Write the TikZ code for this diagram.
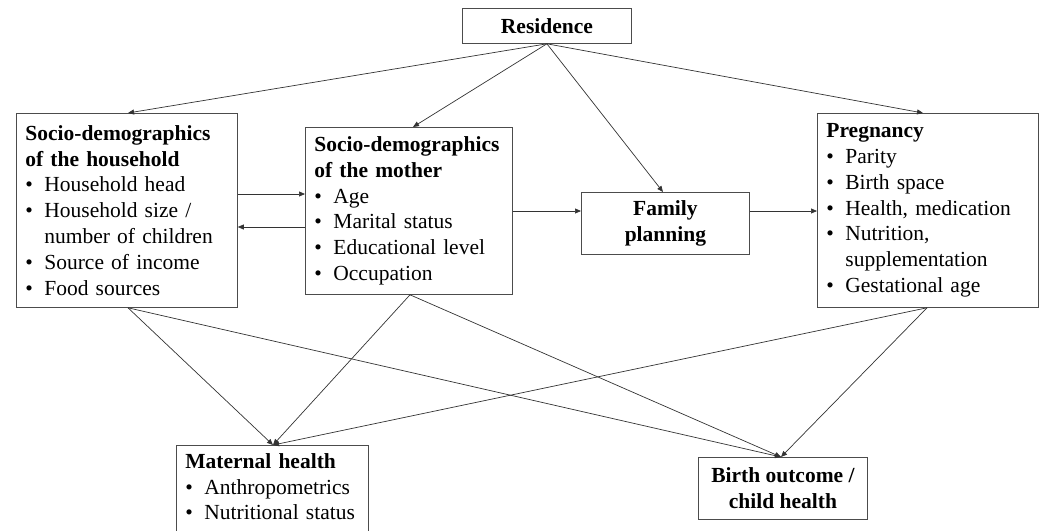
\documentclass[tikz,border=0pt]{standalone}
\usepackage{fontspec}
\setmainfont{Liberation Serif}
\usetikzlibrary{calc,arrows.meta}
\newcommand\itm{\makebox[19pt][l]{\textbullet}}
\newcommand\cnt{\hspace*{19pt}}
\begin{document}
\begin{tikzpicture}[x=1pt,y=-1pt,
  box/.style={draw=black!70, line width=0.8pt, anchor=north west, inner xsep=9pt, inner ysep=3pt, align=left, font=\fontsize{21.5}{25.8}\selectfont},
  cbox/.style={box, align=center, font=\fontsize{21.5}{25.8}\selectfont\bfseries},
  arr/.style={draw=black!80, line width=0.7pt, -{Triangle[length=6pt,width=5pt]}}]
\useasboundingbox (0,0) rectangle (1043,530);
\begin{scope}
\clip (0,0) rectangle (1043,530);
\node[cbox, minimum width=169pt, minimum height=35pt] (re) at (462,8) {Residence};
\node[box, text width=203pt, minimum height=194pt] (hh) at (16,113)
  {\textbf{Socio-demographics}\\\textbf{of the household}\\\itm Household head\\\itm Household size /\\\cnt number of children\\\itm Source of income\\\itm Food sources};
\node[box, text width=189pt, minimum height=167pt] (mo) at (305,127)
  {\textbf{Socio-demographics}\\\textbf{of the mother}\\\itm Age\\\itm Marital status\\\itm Educational level\\\itm Occupation};
\node[cbox, minimum width=168pt, minimum height=62pt] (fp) at (581,192) {Family\\planning};
\node[box, text width=203pt, minimum height=194pt] (pr) at (817,113)
  {\textbf{Pregnancy}\\\itm Parity\\\itm Birth space\\\itm Health, medication\\\itm Nutrition,\\\cnt supplementation\\\itm Gestational age};
\node[box, text width=174pt, inner ysep=8pt] (mh) at (176,445)
  {\textbf{Maternal health}\\\itm Anthropometrics\\\itm Nutritional status\\\mbox{}};
\node[cbox, minimum width=169pt, minimum height=62pt] (bo) at (698,457) {Birth outcome /\\child health};

\draw[arr] (re.south) -- ($(hh.north west)+(112,0)$);
\draw[arr] (re.south) -- ($(mo.north west)+(108,0)$);
\draw[arr] (re.south) -- ($(fp.north west)+(82,0)$);
\draw[arr] (re.south) -- ($(pr.north west)+(106,0)$);

\draw[arr] ($(hh.north east)+(0,81)$) -- ($(mo.north west)+(0,67)$);
\draw[arr] ($(mo.north west)+(0,100)$) -- ($(hh.north east)+(0,114)$);
\draw[arr] ($(mo.north east)+(0,84)$) -- ($(fp.north west)+(0,19)$);
\draw[arr] ($(fp.north east)+(0,19)$) -- ($(pr.north west)+(0,98)$);

\draw[arr] ($(hh.south west)+(112,0)$) -- ($(mh.north west)+(97,0)$);
\draw[arr] ($(hh.south west)+(112,0)$) -- ($(bo.north west)+(83,0)$);
\draw[arr] ($(mo.south west)+(105,0)$) -- ($(mh.north west)+(97,0)$);
\draw[arr] ($(mo.south west)+(105,0)$) -- ($(bo.north west)+(83,0)$);
\draw[arr] ($(pr.south west)+(110,0)$) -- ($(mh.north west)+(97,0)$);
\draw[arr] ($(pr.south west)+(110,0)$) -- ($(bo.north west)+(83,0)$);
\end{scope}
\end{tikzpicture}
\end{document}
